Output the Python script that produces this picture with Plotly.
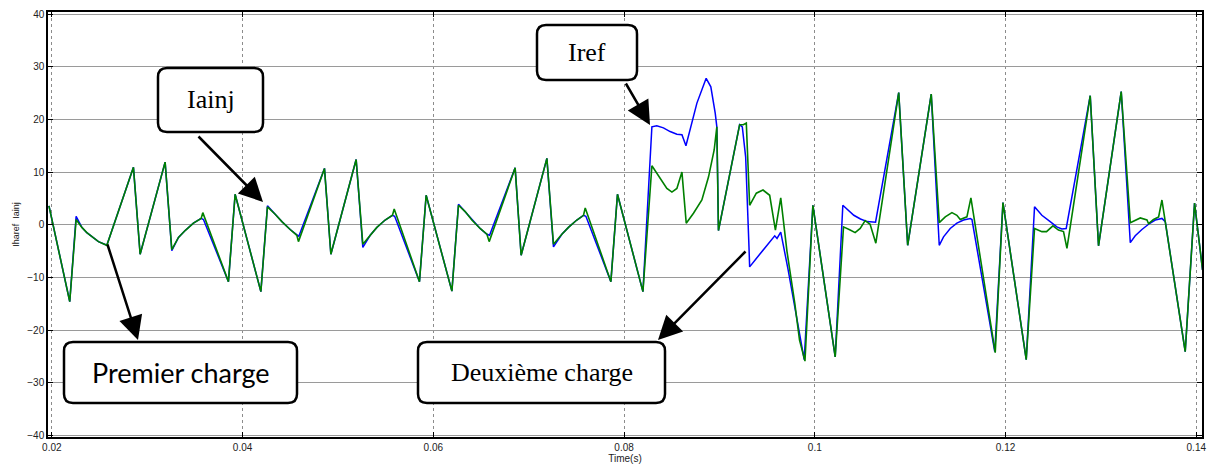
import plotly.graph_objects as go

# Iref (blue) - time and current values
t_ref = [0.0197, 0.02188, 0.02255, 0.02315, 0.02367, 0.02419, 0.02489, 0.02577,
         0.02856, 0.02926, 0.03188, 0.03258, 0.03328, 0.03398, 0.03485, 0.03566, 0.03590,
         0.03852, 0.03922, 0.04192, 0.04261, 0.04342, 0.04412, 0.04499, 0.04569, 0.04590,
         0.04859, 0.04926, 0.05191, 0.05261, 0.05338, 0.05408, 0.05495, 0.05572, 0.05595,
         0.05855, 0.05925, 0.06195, 0.06264, 0.06334, 0.06404, 0.06491, 0.06562, 0.06590,
         0.06858, 0.06921, 0.07191, 0.07260, 0.07348, 0.07417, 0.07505, 0.07575, 0.07600,
         0.07862, 0.07931, 0.08198,
         0.08292, 0.08343, 0.08413, 0.08483, 0.08554, 0.08607, 0.08649, 0.08764, 0.08861,
         0.08910, 0.08956, 0.08973, 0.08990, 0.09212, 0.09240, 0.09275, 0.09310, 0.09317,
         0.09387, 0.09457, 0.09527, 0.09580, 0.09604, 0.09643, 0.09720, 0.09780, 0.09840,
         0.09889, 0.09980, 0.10214, 0.10294, 0.10356, 0.10409, 0.10479, 0.10549, 0.10637,
         0.10880, 0.10974, 0.11221, 0.11305, 0.11350, 0.11420, 0.11490, 0.11560, 0.11630,
         0.11648, 0.11887, 0.11973, 0.12217, 0.12304, 0.12381, 0.12468, 0.12538, 0.12590,
         0.12636, 0.12888, 0.12975, 0.13213, 0.13308, 0.13360, 0.13430, 0.13500, 0.13570,
         0.13640, 0.13675, 0.13884, 0.13982, 0.14066]
i_ref = [3.6, -14.6, 1.6, -0.5, -1.5, -2.3, -3.2, -3.9,
         10.9, -5.6, 11.9, -4.9, -2.4, -1.1, 0.3, 1.2, 1.0,
         -10.8, 5.8, -12.7, 3.6, 2.0, 0.6, -0.9, -2.0, -2.2,
         10.7, -5.6, 12.4, -4.3, -2.0, -0.5, 0.9, 1.8, 1.6,
         -10.8, 5.6, -12.6, 3.9, 2.5, 0.9, -0.7, -1.8, -2.0,
         10.8, -5.8, 12.6, -4.2, -1.8, -0.5, 0.9, 1.8, 1.6,
         -10.8, 5.8, -12.7,
         18.6, 18.8, 18.4, 17.7, 17.2, 17.1, 15.0, 23.1, 27.8,
         26.2, 21.2, 18.6, -1.1, 19.0, 18.6, 12.9, -4.2, -8.0,
         -6.4, -4.8, -3.2, -2.1, -2.6, -1.4, -8.5, -14.5, -21.0,
         -25.6, 3.7, -25.1, 3.7, 2.7, 1.8, 1.1, 0.6, 0.5,
         25.1, -3.9, 24.8, -3.9, -2.3, -0.7, 0.3, 0.9, 1.2,
         1.0, -24.1, 4.2, -25.6, 3.4, 1.8, 0.6, -0.4, -0.8,
         -0.7, 24.5, -4.0, 25.3, -3.4, -2.1, -0.9, 0.1, 0.9,
         1.2, 0.6, -24.1, 4.1, -8.6]

# Iainj (green)
t_inj = [0.0197, 0.02188, 0.02255, 0.02315, 0.02367, 0.02419, 0.02489, 0.02577,
         0.02856, 0.02926, 0.03188, 0.03258, 0.03328, 0.03398, 0.03485, 0.03566, 0.03583,
         0.03852, 0.03922, 0.04192, 0.04261, 0.04342, 0.04412, 0.04499, 0.04569, 0.04586,
         0.04859, 0.04926, 0.05191, 0.05261, 0.05338, 0.05408, 0.05495, 0.05572, 0.05590,
         0.05855, 0.05925, 0.06195, 0.06264, 0.06334, 0.06404, 0.06491, 0.06562, 0.06586,
         0.06858, 0.06921, 0.07191, 0.07260, 0.07348, 0.07417, 0.07505, 0.07575, 0.07593,
         0.07862, 0.07931, 0.08198,
         0.08292, 0.08379, 0.08449, 0.08502, 0.08554, 0.08607, 0.08652, 0.08728, 0.08816,
         0.08886, 0.08945, 0.08973, 0.08990, 0.09212, 0.09250, 0.09282, 0.09317, 0.09387,
         0.09457, 0.09527, 0.09587, 0.09643, 0.09708, 0.09790, 0.09840, 0.09897, 0.09980,
         0.10214, 0.10301, 0.10371, 0.10423, 0.10476, 0.10528, 0.10580, 0.10640, 0.10880,
         0.10974, 0.11221, 0.11305, 0.11368, 0.11438, 0.11490, 0.11525, 0.11595, 0.11637,
         0.11892, 0.11973, 0.12217, 0.12304, 0.12381, 0.12430, 0.12497, 0.12555, 0.12608,
         0.12644, 0.12888, 0.12975, 0.13213, 0.13308, 0.13413, 0.13483, 0.13500, 0.13552,
         0.13605, 0.13640, 0.13884, 0.13982, 0.14066]
i_inj = [3.6, -14.6, 1.0, -0.5, -1.5, -2.3, -3.2, -3.9,
         10.9, -5.6, 11.9, -4.7, -2.4, -1.1, 0.3, 1.2, 2.3,
         -10.8, 5.8, -12.7, 3.4, 2.0, 0.6, -0.9, -2.0, -3.2,
         10.7, -5.6, 12.4, -3.7, -2.0, -0.5, 0.9, 1.8, 3.0,
         -10.8, 5.6, -12.6, 3.7, 2.5, 0.9, -0.7, -1.8, -3.2,
         10.8, -5.8, 12.6, -3.7, -1.8, -0.5, 0.9, 1.8, 3.2,
         -10.8, 5.8, -12.7,
         11.2, 8.8, 6.9, 6.2, 6.9, 10.0, 0.3, 2.2, 4.7,
         9.1, 14.2, 18.6, -1.1, 19.0, 19.0, 19.3, 3.7, 6.0,
         6.6, 5.6, -1.0, 5.1, -5.0, -14.9, -21.9, -25.9, 3.7,
         -25.1, -0.4, -1.0, -1.5, -0.7, 0.8, 0.1, -3.5, 25.1,
         -3.9, 24.8, 0.4, 1.5, 2.3, 1.8, 1.0, 1.5, 5.1,
         -24.3, 4.2, -25.6, -0.7, -1.3, -1.3, -0.2, -1.0, -1.3,
         -4.5, 24.5, -4.0, 25.3, 0.4, 1.3, 0.9, 0.2, 1.0,
         1.5, 4.7, -24.1, 4.1, -8.6]

x_ticks = [0.02, 0.04, 0.06, 0.08, 0.1, 0.12, 0.14]
y_ticks = [-40, -30, -20, -10, 0, 10, 20, 30, 40]

W, H = 1217, 466
ML, MR, MT, MB = 48, 15, 12, 29
PW, PH = W - ML - MR, H - MT - MB

fig = go.Figure()
fig.add_trace(go.Scatter(x=t_ref, y=i_ref, mode="lines", name="Iref",
                         line=dict(color="#0000ff", width=1.5)))
fig.add_trace(go.Scatter(x=t_inj, y=i_inj, mode="lines", name="Iainj",
                         line=dict(color="#008000", width=1.6)))


def px(x, y):
    # image pixel -> paper fraction of the plot area
    return (x - ML) / PW, (H - MB - y) / PH


def rbox(x0, y0, x1, y1, r=9):
    # rounded rectangle in pixels, origin at bottom-left of plot area
    a0, b1 = x0 - ML, H - MB - y0
    a1, b0 = x1 - ML, H - MB - y1
    return (f"M{a0+r},{b0} L{a1-r},{b0} Q{a1},{b0} {a1},{b0+r} L{a1},{b1-r} "
            f"Q{a1},{b1} {a1-r},{b1} L{a0+r},{b1} Q{a0},{b1} {a0},{b1-r} "
            f"L{a0},{b0+r} Q{a0},{b0} {a0+r},{b0} Z")


# callout boxes: (left, top, right, bottom), label, font
boxes = [
    ((158, 68, 263, 132), "Iainj", "Liberation Serif", 26),
    ((537, 25, 637, 80), "Iref", "Liberation Serif", 26),
    ((64, 342, 297, 403), "Premier charge", "Lato", 27),
    ((418, 342, 665, 403), "Deuxième charge", "Liberation Serif", 26),
]
# arrows: tip (x, y) and tail offset in pixels
arrows = [((263, 202), (-66, -67)), ((650, 125), (-25, -43)),
          ((138, 340), (-31, -97)), ((658, 340), (89, -90))]

for (x0, y0, x1, y1), label, fam, size in boxes:
    fig.add_shape(type="path", xref="paper", yref="paper",
                  xsizemode="pixel", ysizemode="pixel", xanchor=0, yanchor=0,
                  path=rbox(x0, y0, x1, y1), fillcolor="white",
                  line=dict(color="black", width=2.5), layer="above")
    cx, cy = px((x0 + x1) / 2, (y0 + y1) / 2)
    fig.add_annotation(x=cx, y=cy, xref="paper", yref="paper", text=label,
                       xanchor="center", yanchor="middle", showarrow=False,
                       font=dict(family=fam, size=size, color="black"))

for (hx, hy), (ax, ay) in arrows:
    x, y = px(hx, hy)
    fig.add_annotation(x=x, y=y, xref="paper", yref="paper", text="",
                       showarrow=True, arrowhead=2, arrowsize=1.9, arrowwidth=2.5,
                       arrowcolor="black", ax=ax, ay=ay)

axis_common = dict(showgrid=True, gridwidth=1,
                   showline=True, linecolor="black", linewidth=1.5, mirror="ticks",
                   ticks="inside", ticklen=5, tickcolor="black", zeroline=False,
                   tickfont=dict(family="Liberation Sans", size=10, color="#222"))

fig.update_xaxes(range=[0.0196, 0.1406], tickvals=x_ticks,
                 ticktext=[f"{v:g}" for v in x_ticks],
                 gridcolor="#8c8c8c", griddash="dot",
                 title=dict(text="Time(s)", standoff=2,
                            font=dict(family="Liberation Sans", size=10, color="#222")),
                 **axis_common)
fig.update_yaxes(range=[-40.3, 40.4], tickvals=y_ticks,
                 gridcolor="#9a9a9a", griddash="solid",
                 title=dict(text="Iharef  Iainj", standoff=6,
                            font=dict(family="Liberation Sans", size=9, color="#222")),
                 **axis_common)

fig.update_layout(template="none", width=W, height=H, showlegend=False,
                  paper_bgcolor="white", plot_bgcolor="white",
                  margin=dict(l=ML, r=MR, t=MT, b=MB))

fig.write_html("out.html", config={"displayModeBar": False},
               post_script="document.body.style.margin='0';")
